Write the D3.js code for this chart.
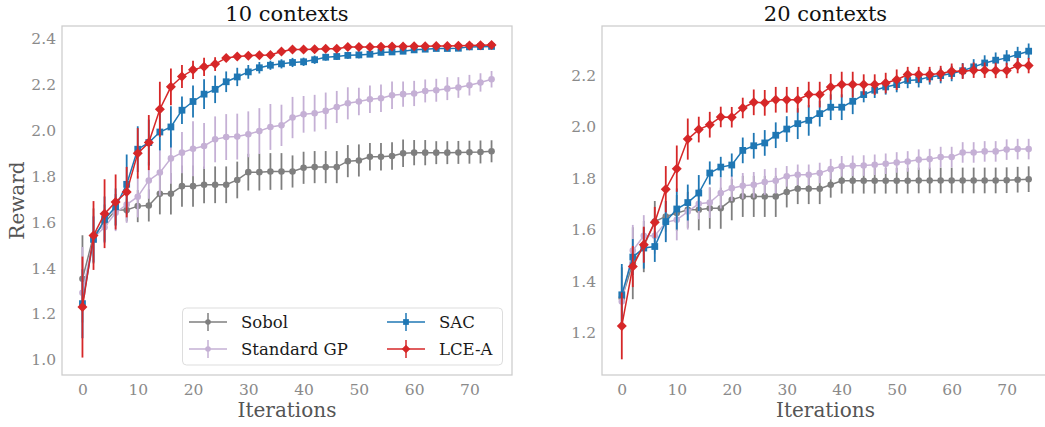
<!DOCTYPE html>
<html>
<head>
<meta charset="utf-8">
<script src="https://cdn.jsdelivr.net/npm/d3@7/dist/d3.min.js"></script>
<style>
  html, body { margin: 0; padding: 0; background: #fff; }
  svg { display: block; }
</style>
</head>
<body>
<svg id="chart" width="1045" height="427"></svg>
<script>
// ---------------- DATA ----------------
const iterations = [0,2,4,6,8,10,12,14,16,18,20,22,24,26,28,30,32,34,36,38,40,42,44,46,48,50,52,54,56,58,60,62,64,66,68,70,72,74];
const seriesNames = ["Sobol", "Standard GP", "SAC", "LCE-A"];
const panelTitles = ["10 contexts", "20 contexts"];
const xTicks = [0,10,20,30,40,50,60,70];
const yTicks10 = [1.0,1.2,1.4,1.6,1.8,2.0,2.2,2.4];
const yTicks20 = [1.2,1.4,1.6,1.8,2.0,2.2];

// 10 contexts
const sobol10 = [1.353,1.54,1.597,1.653,1.653,1.670,1.673,1.724,1.724,1.757,1.757,1.763,1.763,1.763,1.784,1.818,1.818,1.821,1.821,1.821,1.837,1.840,1.840,1.840,1.866,1.869,1.885,1.885,1.888,1.900,1.903,1.903,1.903,1.903,1.904,1.905,1.906,1.909];
const sobol10err = [0.19,0.12,0.08,0.07,0.05,0.07,0.07,0.09,0.09,0.09,0.09,0.08,0.08,0.08,0.08,0.08,0.08,0.08,0.08,0.07,0.07,0.07,0.07,0.07,0.07,0.07,0.06,0.06,0.06,0.06,0.055,0.055,0.05,0.05,0.05,0.05,0.05,0.048];
const gp10 = [1.292,1.532,1.578,1.641,1.677,1.711,1.782,1.816,1.878,1.903,1.920,1.932,1.961,1.971,1.973,1.983,1.997,2.015,2.022,2.056,2.070,2.075,2.085,2.102,2.118,2.126,2.136,2.140,2.153,2.158,2.161,2.172,2.175,2.182,2.187,2.197,2.209,2.223];
const gp10err = [0.2,0.1,0.07,0.08,0.08,0.09,0.08,0.1,0.11,0.09,0.12,0.1,0.1,0.1,0.1,0.1,0.1,0.1,0.09,0.09,0.08,0.08,0.08,0.07,0.07,0.06,0.06,0.06,0.06,0.055,0.055,0.05,0.05,0.05,0.045,0.045,0.04,0.036];
const sac10 = [1.245,1.525,1.612,1.667,1.765,1.918,1.947,1.993,2.015,2.088,2.126,2.158,2.179,2.212,2.233,2.255,2.273,2.284,2.290,2.296,2.299,2.308,2.319,2.322,2.327,2.329,2.332,2.340,2.342,2.345,2.351,2.354,2.357,2.357,2.358,2.364,2.365,2.366];
const sac10err = [0.15,0.1,0.1,0.08,0.13,0.1,0.1,0.08,0.09,0.06,0.07,0.065,0.06,0.045,0.04,0.03,0.025,0.02,0.02,0.02,0.018,0.018,0.015,0.015,0.015,0.015,0.012,0.012,0.012,0.012,0.01,0.01,0.01,0.01,0.01,0.01,0.01,0.01];
const lce10 = [1.230,1.542,1.637,1.688,1.731,1.900,1.947,2.092,2.190,2.235,2.264,2.277,2.289,2.316,2.322,2.325,2.328,2.329,2.344,2.353,2.353,2.354,2.356,2.356,2.363,2.364,2.364,2.365,2.366,2.366,2.367,2.367,2.368,2.368,2.369,2.370,2.371,2.372];
const lce10err = [0.22,0.15,0.15,0.12,0.11,0.11,0.12,0.12,0.08,0.05,0.04,0.04,0.03,0.015,0.012,0.012,0.012,0.012,0.012,0.01,0.01,0.01,0.01,0.01,0.01,0.01,0.01,0.01,0.01,0.01,0.01,0.01,0.01,0.01,0.01,0.01,0.01,0.01];

// 20 contexts
const sobol20 = [1.334,1.470,1.535,1.632,1.652,1.665,1.678,1.678,1.684,1.684,1.717,1.730,1.730,1.730,1.730,1.747,1.760,1.760,1.760,1.775,1.791,1.791,1.791,1.791,1.791,1.791,1.791,1.792,1.792,1.792,1.792,1.792,1.792,1.792,1.792,1.793,1.795,1.797];
const sobol20err = [0.12,0.14,0.1,0.08,0.06,0.07,0.07,0.08,0.08,0.08,0.08,0.08,0.08,0.08,0.08,0.06,0.06,0.06,0.06,0.05,0.05,0.05,0.05,0.05,0.05,0.05,0.05,0.05,0.05,0.05,0.05,0.05,0.05,0.05,0.05,0.05,0.05,0.05];
const gp20 = [1.321,1.519,1.577,1.577,1.629,1.639,1.671,1.701,1.706,1.743,1.762,1.771,1.775,1.786,1.791,1.808,1.814,1.814,1.821,1.836,1.847,1.849,1.850,1.853,1.857,1.862,1.866,1.873,1.875,1.883,1.883,1.901,1.901,1.905,1.905,1.912,1.914,1.914];
const gp20err = [0.1,0.1,0.08,0.07,0.07,0.08,0.07,0.06,0.06,0.06,0.05,0.05,0.05,0.05,0.05,0.04,0.04,0.04,0.04,0.04,0.04,0.04,0.04,0.04,0.04,0.04,0.04,0.04,0.04,0.04,0.04,0.04,0.04,0.04,0.04,0.04,0.04,0.04];
const sac20 = [1.347,1.494,1.529,1.535,1.632,1.681,1.706,1.743,1.821,1.844,1.852,1.909,1.927,1.938,1.968,1.992,2.013,2.026,2.052,2.077,2.077,2.100,2.126,2.143,2.156,2.165,2.181,2.184,2.195,2.200,2.208,2.219,2.234,2.249,2.260,2.269,2.282,2.295];
const sac20err = [0.12,0.07,0.08,0.06,0.08,0.08,0.07,0.07,0.045,0.04,0.045,0.05,0.05,0.05,0.05,0.05,0.06,0.06,0.05,0.05,0.05,0.05,0.03,0.03,0.03,0.03,0.03,0.03,0.03,0.03,0.03,0.03,0.03,0.03,0.03,0.03,0.03,0.03];
const lce20 = [1.226,1.457,1.542,1.629,1.758,1.838,1.953,1.990,2.009,2.039,2.038,2.074,2.096,2.094,2.106,2.106,2.106,2.126,2.126,2.156,2.165,2.165,2.165,2.165,2.171,2.184,2.204,2.204,2.204,2.208,2.217,2.217,2.221,2.221,2.220,2.220,2.239,2.239];
const lce20err = [0.13,0.08,0.07,0.06,0.09,0.09,0.08,0.05,0.05,0.04,0.04,0.04,0.05,0.05,0.05,0.05,0.05,0.05,0.05,0.05,0.05,0.05,0.04,0.04,0.04,0.04,0.03,0.03,0.03,0.03,0.03,0.03,0.03,0.03,0.03,0.03,0.03,0.03];

// ---------------- STYLE ----------------
const colors = {"Sobol": "#7f7f7f", "Standard GP": "#c5b0d5", "SAC": "#1f77b4", "LCE-A": "#d62728"};
const markers = {"Sobol": "circle", "Standard GP": "circle", "SAC": "square", "LCE-A": "diamond"};
const FONT = "'DejaVu Serif', serif";

const svg = d3.select("#chart");
svg.append("rect").attr("width", 1045).attr("height", 427).attr("fill", "#fff");

function markerPath(type) {
  if (type === "circle") return d3.symbol(d3.symbolCircle, 34)();
  if (type === "square") return d3.symbol(d3.symbolSquare, 46)();
  // diamond (matplotlib 'D')
  return "M0,-5L5,0L0,5L-5,0Z";
}

const panels = [
  { title: panelTitles[0], left: 62, right: 512, top: 26, bottom: 375,
    xDomain: [-3.7, 77.7], yDomain: [0.934, 2.455], yTicks: yTicks10, yLabel: "Reward",
    series: { "Sobol": [sobol10, sobol10err], "Standard GP": [gp10, gp10err], "SAC": [sac10, sac10err], "LCE-A": [lce10, lce10err] },
    legend: true },
  { title: panelTitles[1], left: 602, right: 1049, top: 26, bottom: 375,
    xDomain: [-3.6, 77.7], yDomain: [1.035, 2.393], yTicks: yTicks20, yLabel: null,
    series: { "Sobol": [sobol20, sobol20err], "Standard GP": [gp20, gp20err], "SAC": [sac20, sac20err], "LCE-A": [lce20, lce20err] },
    legend: false }
];

panels.forEach((p, pi) => {
  const x = d3.scaleLinear().domain(p.xDomain).range([p.left, p.right]);
  const y = d3.scaleLinear().domain(p.yDomain).range([p.bottom, p.top]);
  const g = svg.append("g");

  const clipId = "clip" + pi;
  svg.append("defs").append("clipPath").attr("id", clipId)
    .append("rect").attr("x", p.left).attr("y", p.top)
    .attr("width", p.right - p.left).attr("height", p.bottom - p.top);

  // frame
  g.append("rect").attr("x", p.left).attr("y", p.top)
    .attr("width", p.right - p.left).attr("height", p.bottom - p.top)
    .attr("fill", "none").attr("stroke", "#cccccc").attr("stroke-width", 1.25);

  // axes (no tick marks)
  const xAxis = d3.axisBottom(x).tickValues(xTicks).tickSize(0).tickPadding(9).tickFormat(d3.format("d"));
  const gx = g.append("g").attr("transform", `translate(0,${p.bottom})`).call(xAxis);
  gx.select(".domain").remove();
  gx.selectAll("text").attr("font-family", FONT).attr("font-size", 15.5).attr("fill", "#8a8a8a");

  const yAxis = d3.axisLeft(y).tickValues(p.yTicks).tickSize(0).tickPadding(6).tickFormat(d3.format(".1f"));
  const gy = g.append("g").attr("transform", `translate(${p.left},0)`).call(yAxis);
  gy.select(".domain").remove();
  gy.selectAll("text").attr("font-family", FONT).attr("font-size", 15.5).attr("fill", "#8a8a8a");

  // title
  g.append("text").attr("x", (p.left + p.right) / 2).attr("y", 20.5)
    .attr("text-anchor", "middle").attr("font-family", FONT).attr("font-size", 21)
    .attr("fill", "#111").text(p.title);

  // x label
  g.append("text").attr("x", (p.left + p.right) / 2).attr("y", 417)
    .attr("text-anchor", "middle").attr("font-family", FONT).attr("font-size", 20)
    .attr("fill", "#555").text("Iterations");

  if (p.yLabel) {
    g.append("text").attr("transform", `translate(24,${(p.top + p.bottom) / 2}) rotate(-90)`)
      .attr("text-anchor", "middle").attr("font-family", FONT).attr("font-size", 20)
      .attr("fill", "#555").text(p.yLabel);
  }

  const plot = g.append("g").attr("clip-path", `url(#${clipId})`);
  seriesNames.forEach(name => {
    const [vals, errs] = p.series[name];
    const data = iterations.map((it, i) => ({ it, v: vals[i], e: errs[i] }));
    const col = colors[name];
    const sg = plot.append("g");
    // error bars
    sg.selectAll("line.err").data(data).enter().append("line")
      .attr("x1", d => x(d.it)).attr("x2", d => x(d.it))
      .attr("y1", d => y(d.v - d.e)).attr("y2", d => y(d.v + d.e))
      .attr("stroke", col).attr("stroke-width", 1.8);
    // line
    sg.append("path").datum(data)
      .attr("d", d3.line().x(d => x(d.it)).y(d => y(d.v)))
      .attr("fill", "none").attr("stroke", col).attr("stroke-width", 1.5);
    // markers
    sg.selectAll("path.mk").data(data).enter().append("path")
      .attr("d", markerPath(markers[name]))
      .attr("transform", d => `translate(${x(d.it)},${y(d.v)})`)
      .attr("fill", col);
  });

  if (p.legend) {
    const lg = g.append("g");
    lg.append("rect").attr("x", 182.5).attr("y", 308).attr("width", 320).attr("height", 57)
      .attr("rx", 4).attr("fill", "#fff").attr("fill-opacity", 0.85)
      .attr("stroke", "#dddddd").attr("stroke-width", 1);
    const pos = [
      { name: "Sobol", hx: 189, ty: 322 },
      { name: "Standard GP", hx: 189, ty: 349 },
      { name: "SAC", hx: 387, ty: 322 },
      { name: "LCE-A", hx: 387, ty: 349 }
    ];
    pos.forEach(e => {
      const col = colors[e.name];
      const cx = e.hx + 19;
      lg.append("line").attr("x1", e.hx).attr("x2", e.hx + 38).attr("y1", e.ty).attr("y2", e.ty)
        .attr("stroke", col).attr("stroke-width", 1.5);
      lg.append("line").attr("x1", cx).attr("x2", cx).attr("y1", e.ty - 9).attr("y2", e.ty + 9)
        .attr("stroke", col).attr("stroke-width", 1.5);
      lg.append("path").attr("d", markerPath(markers[e.name]))
        .attr("transform", `translate(${cx},${e.ty}) scale(0.85)`).attr("fill", col);
      lg.append("text").attr("x", e.hx + 52).attr("y", e.ty).attr("dy", "0.36em")
        .attr("font-family", FONT).attr("font-size", 16.5).attr("fill", "#1a1a1a").text(e.name);
    });
  }
});
</script>
</body>
</html>
